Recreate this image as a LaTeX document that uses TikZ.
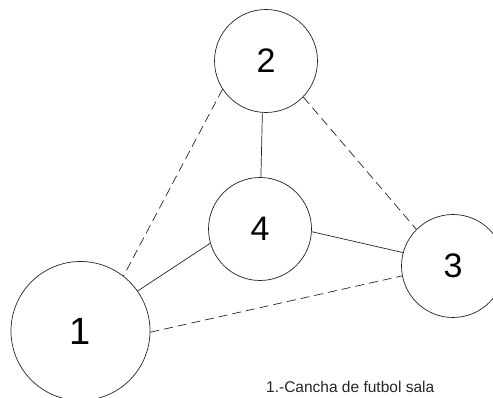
\documentclass[tikz,border=0pt]{standalone}
\usepackage{fontspec}
\setmainfont{Liberation Sans}
\begin{document}
\begin{tikzpicture}[x=1pt,y=-1pt,
  cnode/.style={draw=black!85,circle,inner sep=0pt,line width=0.7pt},
  link/.style={draw=black!85,line width=0.7pt},
  dlink/.style={link,dash pattern=on 9pt off 5pt}]
\useasboundingbox (0,0) rectangle (493,398);
\clip (0,0) rectangle (493,398);
\fill[white] (0,0) rectangle (493,398);
\node[cnode,minimum size=103pt,font=\fontsize{34}{40}\selectfont] (n2) at (266,61) {2};
\node[cnode,minimum size=103pt,font=\fontsize{34}{40}\selectfont] (n4) at (260,229) {4};
\node[cnode,minimum size=103pt,font=\fontsize{34}{40}\selectfont] (n3) at (453,266) {3};
\node[cnode,minimum size=139pt,font=\fontsize{38}{44}\selectfont] (n1) at (80.5,331) {1};
\draw[link] (n2.266) -- (n4.89);
\draw[link] (n4.196) -- (n1.35);
\draw[link] (n4.357) -- (n3.165);
\draw[dlink] (n2.213) -- (n1.52);
\draw[dlink] (n2.316) -- (n3.135);
\draw[dlink] (n1.359) -- (n3.191);
\node[anchor=base west,inner sep=0pt,font=\fontsize{15.5}{18}\selectfont,text=black!85] (cap) at (266,392) {1.-Cancha de futbol sala};
\end{tikzpicture}
\end{document}
